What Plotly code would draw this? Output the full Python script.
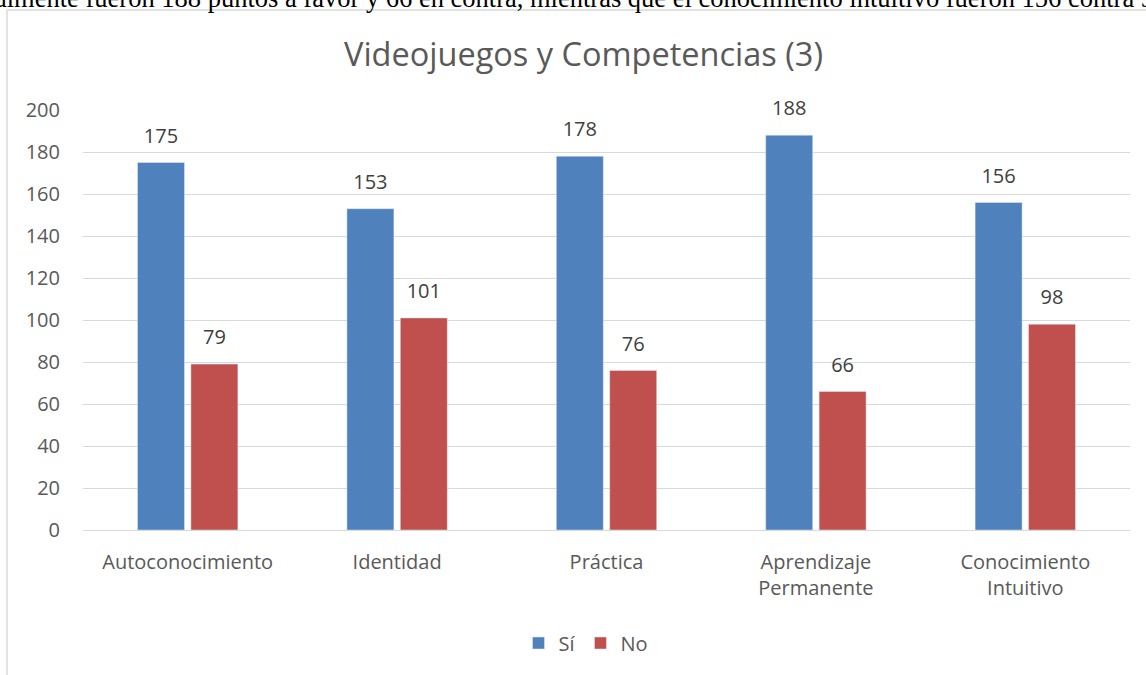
import plotly.graph_objects as go

# Chart data
categories = ["Autoconocimiento", "Identidad", "Práctica",
              "Aprendizaje<br>Permanente", "Conocimiento<br>Intuitivo"]
si_values = [175, 153, 178, 188, 156]
no_values = [79, 101, 76, 66, 98]
y_ticks = [0, 20, 40, 60, 80, 100, 120, 140, 160, 180, 200]

title_text = "Videojuegos y Competencias (3)"
body_text = ("almente fueron 188 puntos a favor y 66 en contra, mientras que "
             "el conocimiento intuitivo fueron 156 contra 98")

W, H = 1146, 675
L, R, T, B = 83, 16, 110, 145
FONT = "'Open Sans', sans-serif"
GREY = "#595959"
BLUE = "#4F81BD"
RED = "#C0504D"
BAR_GAP = 0.49

fig = go.Figure()
fig.add_trace(go.Bar(name="Sí", x=categories, y=si_values,
                     marker=dict(color=BLUE), offsetgroup="si",
                     hoverinfo="x+y"))
fig.add_trace(go.Bar(name="No", x=categories, y=no_values,
                     marker=dict(color=RED), offsetgroup="no",
                     hoverinfo="x+y"))

# value labels, grouped the same way as the bars
for name, vals in (("si", si_values), ("no", no_values)):
    fig.add_trace(go.Scatter(
        x=categories, y=vals, mode="markers+text",
        offsetgroup=name, showlegend=False, hoverinfo="skip",
        marker=dict(size=22, color="rgba(0,0,0,0)"),
        text=[str(v) for v in vals], textposition="top center",
        textfont=dict(size=20, color="#404040", family=FONT),
        cliponaxis=False,
    ))

pw = W - L - R
ph = H - T - B

def px_x(x):
    return (x - L) / pw

def px_y(y):
    return (H - B - y) / ph

shapes = [
    # chart frame (left and top edges)
    dict(type="line", xref="paper", yref="paper",
         x0=px_x(7), x1=px_x(7), y0=px_y(10), y1=px_y(H + 5),
         line=dict(color="#d9d9d9", width=1.5)),
    dict(type="line", xref="paper", yref="paper",
         x0=px_x(7), x1=px_x(W + 5), y0=px_y(10), y1=px_y(10),
         line=dict(color="#d9d9d9", width=1.5)),
]

annotations = [
    dict(text=title_text, xref="paper", yref="paper",
         x=px_x(583), y=px_y(53), xanchor="center", yanchor="middle",
         showarrow=False, font=dict(size=32.5, color=GREY, family=FONT)),
    dict(text=body_text, xref="paper", yref="paper",
         x=px_x(-7), y=px_y(15), xanchor="left", yanchor="bottom",
         showarrow=False, align="left",
         font=dict(size=26.5, color="#000000",
                   family="'Liberation Serif', 'Times New Roman', serif")),
]

fig.update_layout(
    width=W, height=H,
    margin=dict(l=L, r=R, t=T, b=B, autoexpand=False),
    paper_bgcolor="white", plot_bgcolor="white",
    barmode="group", bargap=BAR_GAP, bargroupgap=0.12,
    scattermode="group", scattergap=BAR_GAP,
    showlegend=True,
    legend=dict(orientation="h", x=px_x(586), xanchor="center",
                y=px_y(643), yanchor="middle",
                font=dict(size=20, color=GREY, family=FONT),
                itemwidth=30, traceorder="normal"),
    shapes=shapes, annotations=annotations,
    font=dict(family=FONT, color=GREY),
)
fig.update_xaxes(
    showgrid=False, showline=True, linecolor="#d9d9d9", linewidth=1,
    ticks="", tickfont=dict(size=20, color=GREY, family=FONT),
    ticklabelstandoff=14,
)
fig.update_yaxes(
    range=[0, 200], tickvals=y_ticks, showgrid=True,
    gridcolor="#d9d9d9", gridwidth=1, zeroline=False, showline=False,
    ticks="", tickfont=dict(size=20, color=GREY, family=FONT),
    ticklabelstandoff=22,
)

fig.write_html("out.html")
